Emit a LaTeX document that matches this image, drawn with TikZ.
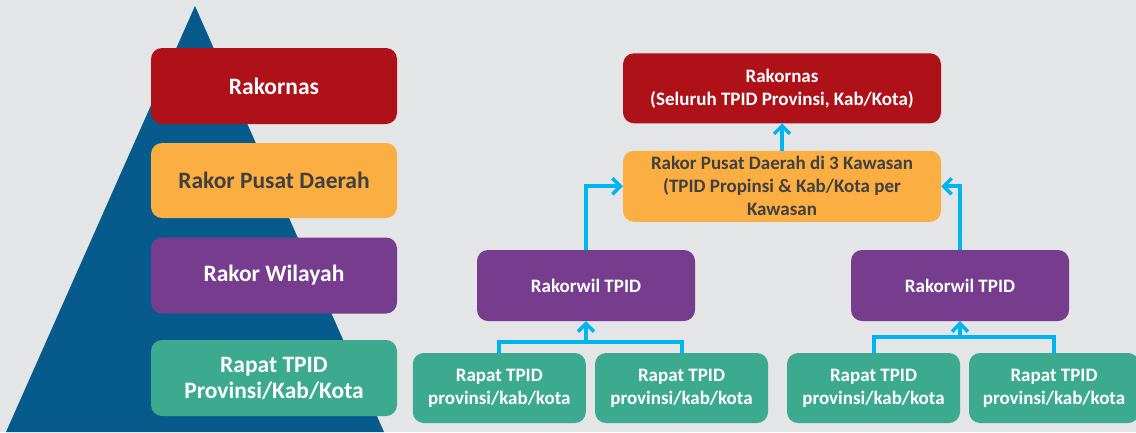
\documentclass[tikz,border=0pt]{standalone}
\usepackage{fontspec}
\setmainfont{Carlito}
\usetikzlibrary{arrows.meta}
\definecolor{bg}{HTML}{E4E5E7}
\definecolor{pyr}{HTML}{075A8C}
\definecolor{cred}{HTML}{AE1117}
\definecolor{corange}{HTML}{FBAE42}
\definecolor{cpurple}{HTML}{763C8D}
\definecolor{cteal}{HTML}{3BAA8F}
\definecolor{ccyan}{HTML}{00B5EF}
\definecolor{dtext}{HTML}{404040}
\tikzset{
  box/.style={rounded corners=11pt, inner sep=0pt, align=center, font=\bfseries},
  bigbox/.style={box, minimum width=246pt, font=\fontsize{23.5}{26}\selectfont\bfseries},
  smallbox/.style={box, font=\fontsize{19}{23}\selectfont\bfseries},
  redbox/.style={fill=cred, text=white},
  orangebox/.style={fill=corange, text=dtext},
  purplebox/.style={fill=cpurple, text=white},
  tealbox/.style={fill=cteal, text=white},
  link/.style={draw=ccyan, line width=4pt},
  arr/.style={link, -{Straight Barb[length=8pt,width=16pt,line width=3.5pt]}},
}
\begin{document}
\begin{tikzpicture}[x=1pt,y=-1pt]
\useasboundingbox (0,0) rectangle (1136,432);
\fill[bg] (0,0) rectangle (1136,432);
\fill[pyr] (195,6) -- (384,432) -- (6,432) -- cycle;
% left stack
\node[bigbox, redbox, minimum height=76pt] (L1) at (274,86) {Rakornas};
\node[bigbox, orangebox, minimum height=75pt] (L2) at (274,180.5) {Rakor Pusat Daerah};
\node[bigbox, purplebox, minimum height=76pt] (L3) at (274,275.5) {Rakor Wilayah};
\node[bigbox, tealbox, minimum height=76pt] (L4) at (274,378) {Rapat TPID\\Provinsi/Kab/Kota};
% right tree
\node[smallbox, redbox, minimum width=318pt, minimum height=70pt] (rk) at (782,88.3) {Rakornas\\(Seluruh TPID Provinsi, Kab/Kota)};
\node[smallbox, orangebox, minimum width=318pt, minimum height=71pt] (rp) at (782,186.3) {Rakor Pusat Daerah di 3 Kawasan\\(TPID Propinsi \& Kab/Kota per\\Kawasan};
\node[smallbox, purplebox, minimum width=218pt, minimum height=71pt] (rw1) at (586,285.5) {Rakorwil TPID};
\node[smallbox, purplebox, minimum width=218pt, minimum height=71pt] (rw2) at (960,285.5) {Rakorwil TPID};
\node[smallbox, tealbox, minimum width=173pt, minimum height=70pt] (t1) at (499.3,388) {Rapat TPID\\provinsi/kab/kota};
\node[smallbox, tealbox, minimum width=173pt, minimum height=70pt] (t2) at (681.5,388) {Rapat TPID\\provinsi/kab/kota};
\node[smallbox, tealbox, minimum width=173pt, minimum height=70pt] (t3) at (873.5,388) {Rapat TPID\\provinsi/kab/kota};
\node[smallbox, tealbox, minimum width=170pt, minimum height=70pt] (t4) at (1054,388) {Rapat TPID\\provinsi/kab/kota};
% connectors
\draw[arr] (rp.north) -- (rk.south);
\draw[arr] (rw1.north) |- (rp.west);
\draw[arr] (rw2.north) |- (rp.east);
\coordinate (b1) at (586,341.5);
\coordinate (b2) at (960,337);
\draw[link] (t1.north) |- (b1) -| (t2.north);
\draw[arr] (b1) -- (rw1.south);
\draw[link] (t3.north) |- (b2) -| (t4.north);
\draw[arr] (b2) -- (rw2.south);
\end{tikzpicture}
\end{document}
